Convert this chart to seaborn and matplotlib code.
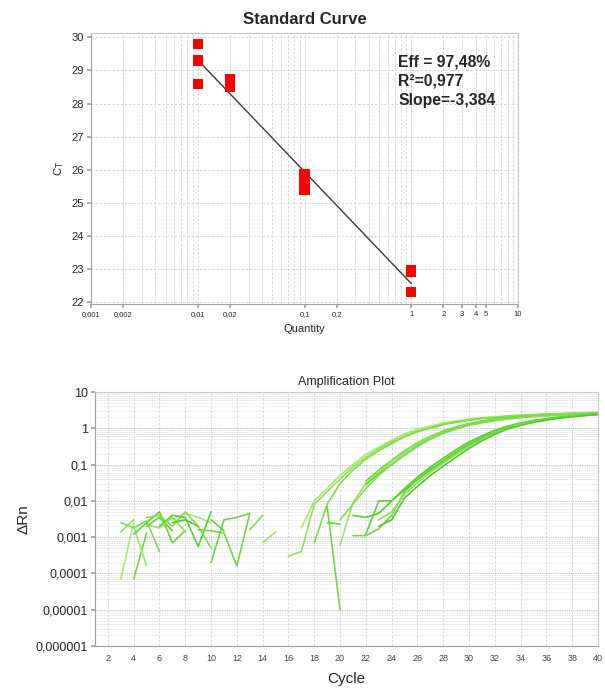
import numpy as np
import pandas as pd
import matplotlib
matplotlib.use("Agg")
import matplotlib.pyplot as plt
import matplotlib.ticker as mticker
import seaborn as sns

sns.set_theme(style="white")
plt.rcParams['font.family'] = ['Liberation Sans', 'DejaVu Sans']

# ---------------- Standard curve data ----------------
quantity = [0.01, 0.01, 0.01, 0.02, 0.02, 0.02, 0.1, 0.1, 0.1, 0.1, 1, 1, 1]
ct_values = [29.8, 29.3, 28.6, 28.75, 28.65, 28.5, 25.85, 25.65, 25.5, 25.4, 22.95, 22.9, 22.3]
fit_slope = -3.384
fit_intercept = 22.55
fit_range = [0.01, 1]
std_xticks = [0.001, 0.002, 0.01, 0.02, 0.1, 0.2, 1, 2, 3, 4, 5, 10]
std_xlabels = ["0,001", "0,002", "0,01", "0,02", "0,1", "0,2", "1", "2", "3", "4", "5", "10"]
std_yticks = [22, 23, 24, 25, 26, 27, 28, 29, 30]
stats_text = "Eff = 97,48%\nR²=0,977\nSlope=-3,384"

# ---------------- Amplification data ----------------
n = np.nan
cycles_early = list(range(3, 17))   # 14 cycles
cycles_late = list(range(17, 41))   # 24 cycles

A1_early = [7e-5, 2.5e-3, n, n, 3e-3, 4.5e-3, 3.5e-3, 2.5e-3, n, n, n, n, n, n]
A1_late = [1.8e-3, 0.010, 0.022, 0.05, 0.10, 0.19, 0.30, 0.47, 0.70, 0.95, 1.15, 1.40,
           1.60, 1.80, 1.95, 2.10, 2.20, 2.30, 2.40, 2.50, 2.55, 2.60, 2.70, 2.75]
A2_early = [1.4e-3, 3e-3, n, n, n, n, n, n, n, n, n, n, n, 3e-4]
A2_late = [4e-4, 0.008, 0.018, 0.04, 0.085, 0.16, 0.27, 0.42, 0.62, 0.85, 1.05, 1.30,
           1.50, 1.70, 1.90, 2.00, 2.15, 2.25, 2.35, 2.45, 2.50, 2.60, 2.65, 2.70]
A3_early = [2.5e-3, 1.8e-3, 2.8e-3, 4e-4, n, n, n, n, n, n, 1.6e-3, 4e-3, n, n]
A3_late = [n, 7e-4, 0.008, 0.03, 0.07, 0.14, 0.24, 0.38, 0.58, 0.80, 1.00, 1.25,
           1.45, 1.65, 1.85, 1.95, 2.10, 2.20, 2.30, 2.40, 2.45, 2.55, 2.60, 2.65]
B1_early = [n, 7e-5, 1.3e-3, n, n, n, n, 2e-4, 3e-3, 3.5e-3, 4.5e-3, n, n, n]
B1_late = [n, n, 7e-3, 1e-5, n, 0.035, 0.07, 0.13, 0.24, 0.40, 0.60, 0.85,
           1.10, 1.35, 1.60, 1.80, 1.95, 2.10, 2.20, 2.30, 2.40, 2.50, 2.55, 2.60]
B2_early = [n, 2e-3, 1.6e-4, n, n, n, n, n, n, n, n, 7e-4, 1.4e-3, n]
B2_late = [n, n, n, 6e-4, 0.009, 0.03, 0.06, 0.12, 0.22, 0.37, 0.57, 0.80,
           1.05, 1.30, 1.50, 1.70, 1.90, 2.05, 2.20, 2.30, 2.40, 2.50, 2.60, 2.70]
B3_early = [n, 1.2e-3, 2.5e-3, 5e-3, 7e-4, 1.5e-3, n, n, n, n, n, n, n, n]
B3_late = [n, n, 2.5e-3, 2.3e-3, n, 0.028, 0.055, 0.10, 0.19, 0.33, 0.52, 0.75,
           1.00, 1.25, 1.45, 1.65, 1.85, 2.00, 2.15, 2.25, 2.35, 2.45, 2.55, 2.60]
B4_early = [n, n, 3.5e-3, 4e-3, 2e-3, 5e-3, 2e-3, 5e-4, n, n, n, n, n, n]
B4_late = [n, n, n, 3e-3, 0.008, 0.022, 0.05, 0.10, 0.18, 0.31, 0.50, 0.72,
           0.95, 1.20, 1.42, 1.62, 1.80, 1.95, 2.10, 2.20, 2.30, 2.40, 2.50, 2.60]
C1_early = [n, n, n, 2e-3, 4e-3, 3.5e-3, 5.5e-4, 5e-3, n, n, n, n, n, n]
C1_late = [n, n, n, n, 4e-3, 3.5e-3, 4.5e-3, 0.010, 0.022, 0.045, 0.085, 0.15,
           0.26, 0.42, 0.62, 0.88, 1.15, 1.40, 1.65, 1.85, 2.05, 2.20, 2.35, 2.50]
C2_early = [n, n, n, n, n, n, 1.6e-3, 1.5e-3, 1.3e-3, 1.6e-4, 4.5e-3, n, n, n]
C2_late = [n, n, n, n, 1.1e-3, 1.1e-3, 1.7e-3, 0.004, 0.018, 0.04, 0.075, 0.13,
           0.23, 0.38, 0.57, 0.82, 1.10, 1.35, 1.60, 1.80, 2.00, 2.15, 2.30, 2.45]
C3_early = [n, n, 2e-3, 3.5e-3, 1.5e-3, n, n, 3e-3, 1.5e-3, n, n, n, n, n]
C3_late = [n, n, n, n, n, 1.2e-3, 0.010, 0.010, 0.020, 0.038, 0.07, 0.12,
           0.21, 0.35, 0.53, 0.78, 1.05, 1.30, 1.55, 1.78, 1.98, 2.15, 2.30, 2.45]
C4_early = [n, n, 2.2e-3, 1.8e-3, 3.5e-3, 1.4e-3, n, n, n, n, n, n, n, n]
C4_late = [n, n, n, n, n, n, 3e-3, 0.005, 0.015, 0.032, 0.06, 0.11,
           0.19, 0.32, 0.50, 0.74, 1.00, 1.25, 1.50, 1.72, 1.92, 2.10, 2.25, 2.40]
C5_early = [n, n, n, n, 2.5e-3, 3e-3, 2e-3, n, n, n, n, n, n, n]
C5_late = [n, n, n, n, n, n, 2e-3, 0.003, 0.012, 0.025, 0.05, 0.09,
           0.16, 0.28, 0.45, 0.68, 0.95, 1.20, 1.45, 1.68, 1.90, 2.08, 2.25, 2.40]

curve_names = ["A1", "A2", "A3", "B1", "B2", "B3", "B4", "C1", "C2", "C3", "C4", "C5"]
curve_early = [A1_early, A2_early, A3_early, B1_early, B2_early, B3_early, B4_early,
               C1_early, C2_early, C3_early, C4_early, C5_early]
curve_late = [A1_late, A2_late, A3_late, B1_late, B2_late, B3_late, B4_late,
              C1_late, C2_late, C3_late, C4_late, C5_late]
curve_colors = ["#ade670", "#96df5c", "#80dc4e", "#6cd93e", "#9be265", "#62d535",
                "#85de55", "#55d02a", "#70d840", "#5ed232", "#8ce05a", "#4ecc24"]
amp_yticks = [10, 1, 0.1, 0.01, 0.001, 0.0001, 0.00001, 0.000001]
amp_ylabels = ["10", "1", "0,1", "0,01", "0,001", "0,0001", "0,00001", "0,000001"]
amp_xticks = list(range(2, 41, 2))

# build long table, splitting each curve into continuous segments
rows = []
for name, e, l in zip(curve_names, curve_early, curve_late):
    cyc = cycles_early + cycles_late
    vals = list(e) + list(l)
    seg = 0
    prev_nan = True
    for c, v in zip(cyc, vals):
        if v is None or np.isnan(v):
            prev_nan = True
            continue
        if prev_nan:
            seg += 1
        prev_nan = False
        rows.append({"curve": name, "seg": f"{name}_{seg}", "cycle": c, "drn": v})
amp_df = pd.DataFrame(rows)

# ---------------- Figure ----------------
fig = plt.figure(figsize=(6.05, 6.91), dpi=100)
W, H = 605, 691

def axrect(x0, y0, x1, y1):
    return [x0 / W, 1 - y1 / H, (x1 - x0) / W, (y1 - y0) / H]

ax1 = fig.add_axes(axrect(91, 32.5, 518, 304.3))
ax2 = fig.add_axes(axrect(95, 392, 598, 646))

grid_col = "#d0d0d0"
spine_col = "#a0a0a0"

# --- Standard curve ---
std_df = pd.DataFrame({"Quantity": quantity, "Ct": ct_values})
ax1.set_xscale("log")
ax1.set_xlim(0.001, 10)
ax1.set_ylim(21.92, 30.15)
ax1.xaxis.set_major_locator(mticker.FixedLocator(std_xticks))
ax1.xaxis.set_major_formatter(mticker.FixedFormatter(std_xlabels))
ax1.xaxis.set_minor_locator(mticker.LogLocator(base=10, subs=np.arange(1, 10)))
ax1.xaxis.set_minor_formatter(mticker.NullFormatter())
ax1.set_yticks(std_yticks)
ax1.grid(True, which="both", axis="x", color=grid_col, linestyle=(0, (3, 2)), linewidth=0.6)
ax1.grid(True, which="major", axis="y", color=grid_col, linestyle=(0, (3, 2)), linewidth=0.6)
ax1.set_axisbelow(True)

fit_x = np.array(fit_range)
fit_df = pd.DataFrame({"Quantity": fit_x, "Ct": fit_intercept + fit_slope * np.log10(fit_x)})
sns.lineplot(data=fit_df, x="Quantity", y="Ct", ax=ax1, color="#3a3a3a", linewidth=1.0)
sns.scatterplot(data=std_df, x="Quantity", y="Ct", ax=ax1, marker="s", s=55,
                color="#ff0000", edgecolor="none", linewidth=0, zorder=5)

ax1.set_title("Standard Curve", fontsize=12, fontweight="bold", pad=6)
ax1.set_xlabel("Quantity", fontsize=8, labelpad=4)
ax1.set_ylabel("C$_\\mathrm{T}$", fontsize=8, labelpad=4)
ax1.tick_params(axis="x", which="major", labelsize=5.5, length=3, color=spine_col, pad=2)
ax1.tick_params(axis="x", which="minor", length=0)
ax1.tick_params(axis="y", labelsize=8, length=3, color=spine_col, pad=2)
ax1.tick_params(axis="both", which="both", bottom=True, left=True)
for s in ax1.spines.values():
    s.set_color("#c8c8c8")
    s.set_linewidth(0.8)
ax1.spines["left"].set_color(spine_col)
ax1.spines["bottom"].set_color(spine_col)
ax1.text(0.719, 0.92, stats_text, transform=ax1.transAxes, fontsize=11.3,
         fontweight="bold", va="top", ha="left", linespacing=1.35)

# --- Amplification plot ---
ax2.set_yscale("log")
ax2.set_xlim(1, 40)
ax2.set_ylim(1e-6, 10)
ax2.yaxis.set_major_locator(mticker.FixedLocator(amp_yticks))
ax2.yaxis.set_major_formatter(mticker.FixedFormatter(amp_ylabels))
ax2.yaxis.set_minor_locator(mticker.LogLocator(base=10, subs=np.arange(2, 10), numticks=20))
ax2.yaxis.set_minor_formatter(mticker.NullFormatter())
ax2.set_xticks(amp_xticks)
ax2.grid(True, which="major", axis="x", color="#d4d4d4", linestyle=(0, (3, 2)), linewidth=0.6)
ax2.grid(True, which="major", axis="y", color="#c4c4c4", linestyle=(0, (1, 1)), linewidth=0.8)
ax2.grid(True, which="minor", axis="y", color="#dadada", linestyle=(0, (1, 1)), linewidth=0.6)
ax2.set_axisbelow(True)

sns.lineplot(data=amp_df, x="cycle", y="drn", hue="curve", units="seg", estimator=None,
             palette=dict(zip(curve_names, curve_colors)), linewidth=1.2, ax=ax2,
             legend=False, sort=True)

ax2.set_title("Amplification Plot", fontsize=9, pad=5)
ax2.set_xlabel("Cycle", fontsize=11, labelpad=6)
ax2.set_ylabel("ΔRn", fontsize=11, labelpad=4)
ax2.tick_params(axis="x", labelsize=6.5, length=0, pad=6, labelcolor="#444444")
ax2.tick_params(axis="y", which="major", labelsize=9, length=3, color=spine_col, pad=2, left=True)
ax2.tick_params(axis="y", which="minor", length=0)
for s in ax2.spines.values():
    s.set_color("#c8c8c8")
    s.set_linewidth(0.8)
ax2.spines["left"].set_color(spine_col)
ax2.spines["bottom"].set_color(spine_col)

fig.savefig("out.png", dpi=100)
